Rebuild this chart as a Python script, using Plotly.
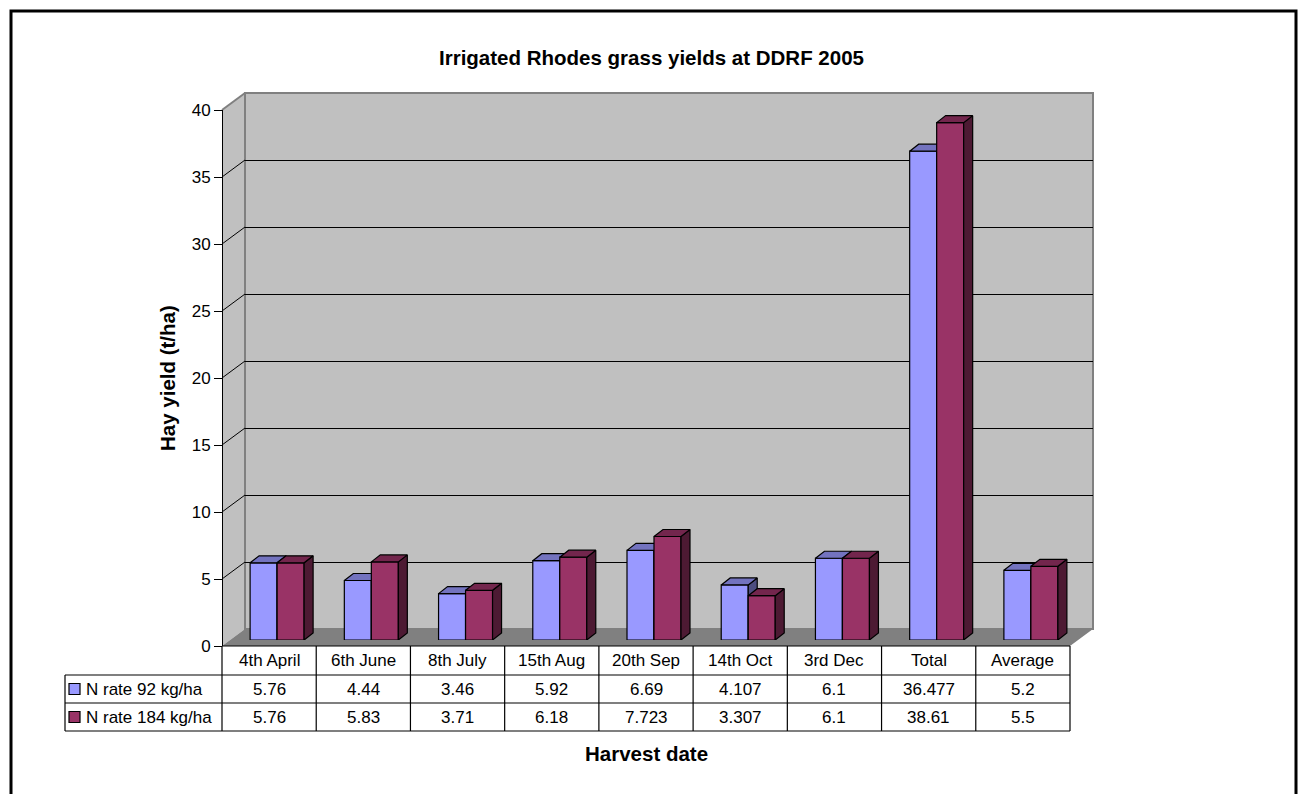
import plotly.graph_objects as go

# ---- data -------------------------------------------------------------
categories = ["4th April", "6th June", "8th July", "15th Aug", "20th Sep",
              "14th Oct", "3rd Dec", "Total", "Average"]
n_rate_92 = [5.76, 4.44, 3.46, 5.92, 6.69, 4.107, 6.1, 36.477, 5.2]
n_rate_184 = [5.76, 5.83, 3.71, 6.18, 7.723, 3.307, 6.1, 38.61, 5.5]
series_names = ["N rate 92 kg/ha", "N rate 184 kg/ha"]
y_ticks = [0, 5, 10, 15, 20, 25, 30, 35, 40]

title_text = "Irrigated Rhodes grass yields at DDRF 2005"
y_title = "Hay yield (t/ha)"
x_title = "Harvest date"

# ---- styling ----------------------------------------------------------
FONT = "Arial, Liberation Sans, sans-serif"
FRONT = ["#9999FF", "#993366"]
TOP = ["#7373BF", "#73264D"]
SIDE = ["#4D4D80", "#4D1A33"]
WALL = "#C0C0C0"
FLOOR = "#808080"

W, H = 1300, 794
FX0, FX1 = 222, 1070          # front plane, x extent (px)
FY0, FY_TOP = 646, 110        # front plane, value 0 and value 40 (px)
DEP_X, DEP_Y = 23, -17        # depth of the box
BAR_SX, BAR_SY = 8, -6        # plane where the bar fronts sit
BAR_DX, BAR_DY = 9, -7        # depth of each bar
N = len(categories)
Y_MAX = y_ticks[-1]

PX_PER_CAT = (FX1 - FX0) / N
PX_PER_UNIT = (FY0 - FY_TOP) / Y_MAX
BAR_W = 27 / PX_PER_CAT
DDX = BAR_DX / PX_PER_CAT
DDY = -BAR_DY / PX_PER_UNIT


def px(x):
    return x / W


def py(y):
    return 1 - y / H


def dom_x(shift):
    return [px(FX0 + shift), px(FX1 + shift)]


def dom_y(shift):
    return [py(FY0 + shift), py(FY_TOP + shift)]


fig = go.Figure()

# ---- bars: front faces, top faces and side faces ------------------------
for k, (vals, name) in enumerate(zip([n_rate_92, n_rate_184], series_names)):
    xa = "x2" if k == 0 else "x3"
    ya = "y2" if k == 0 else "y3"
    offset = -BAR_W if k == 0 else 0.0
    xs = list(range(N))
    fig.add_trace(go.Bar(
        x=xs, y=vals, width=[BAR_W] * N, offset=[offset] * N,
        marker=dict(color=FRONT[k], line=dict(color="black", width=1.2)),
        name=name, showlegend=False, xaxis=xa, yaxis=ya, hoverinfo="skip",
    ))
    top_x, top_y, side_x, side_y = [], [], [], []
    for i, v in enumerate(vals):
        xl = i + offset
        xr = xl + BAR_W
        top_x += [xl, xl + DDX, xr + DDX, xr, xl, None]
        top_y += [v, v + DDY, v + DDY, v, v, None]
        side_x += [xr, xr, xr + DDX, xr + DDX, xr, None]
        side_y += [0, v, v + DDY, DDY, 0, None]
    for fx, fy, col in [(side_x, side_y, SIDE[k]), (top_x, top_y, TOP[k])]:
        fig.add_trace(go.Scatter(
            x=fx, y=fy, mode="lines", fill="toself", fillcolor=col,
            line=dict(color="black", width=1.2), showlegend=False,
            xaxis=xa, yaxis=ya, hoverinfo="skip", cliponaxis=False,
        ))

# front value axis holder
fig.add_trace(go.Scatter(x=[None], y=[None], xaxis="x4", yaxis="y4",
                         showlegend=False, hoverinfo="skip"))
# back wall holder (carries the gridlines)
fig.add_trace(go.Scatter(x=[None], y=[None], xaxis="x", yaxis="y",
                         showlegend=False, hoverinfo="skip"))

hidden = dict(showgrid=False, zeroline=False, showline=False,
              showticklabels=False, ticks="", automargin=False)

fig.update_layout(
    template="none",
    width=W, height=H, autosize=False,
    margin=dict(l=0, r=0, t=0, b=0, pad=0),
    paper_bgcolor="white", plot_bgcolor="rgba(0,0,0,0)",
    showlegend=False, hovermode=False,
    font=dict(family=FONT, size=17, color="black"),
    # back wall
    xaxis=dict(domain=dom_x(DEP_X), range=[-0.5, N - 0.5], anchor="y", **hidden),
    yaxis=dict(domain=dom_y(DEP_Y), range=[0, Y_MAX], anchor="x",
               tickvals=y_ticks[1:-1], showgrid=True, gridcolor="black",
               gridwidth=1, zeroline=False, showline=False,
               showticklabels=False, ticks="", automargin=False),
    # bar plane
    xaxis2=dict(domain=dom_x(BAR_SX), range=[-0.5, N - 0.5], anchor="y2", **hidden),
    yaxis2=dict(domain=dom_y(BAR_SY), range=[0, Y_MAX], anchor="x2", **hidden),
    xaxis3=dict(overlaying="x2", range=[-0.5, N - 0.5], anchor="y3", **hidden),
    yaxis3=dict(overlaying="y2", range=[0, Y_MAX], anchor="x3", **hidden),
    # front plane with the value axis
    xaxis4=dict(domain=dom_x(0), range=[-0.5, N - 0.5], anchor="y4", **hidden),
    yaxis4=dict(domain=dom_y(0), range=[0, Y_MAX], anchor="free",
                position=px(FX0), side="left", tickvals=y_ticks,
                ticks="outside", ticklen=8, tickcolor="black", tickwidth=1,
                showline=True, linecolor="black", linewidth=1,
                showgrid=False, zeroline=False, automargin=False,
                tickfont=dict(family=FONT, size=17, color="black")),
)

shapes = []
# side wall
shapes.append(dict(type="path", xref="paper", yref="paper", layer="below",
                   path=f"M {px(FX0)},{py(FY0)} L {px(FX0 + DEP_X)},{py(FY0 + DEP_Y)} "
                        f"L {px(FX0 + DEP_X)},{py(FY_TOP + DEP_Y)} L {px(FX0)},{py(FY_TOP)} Z",
                   fillcolor=WALL, line=dict(width=0)))
# back wall
shapes.append(dict(type="rect", xref="paper", yref="paper", layer="below",
                   x0=px(FX0 + DEP_X), x1=px(FX1 + DEP_X),
                   y0=py(FY0 + DEP_Y), y1=py(FY_TOP + DEP_Y),
                   fillcolor=WALL, line=dict(color="#808080", width=2)))
# floor
shapes.append(dict(type="path", xref="paper", yref="paper", layer="below",
                   path=f"M {px(FX0)},{py(FY0)} L {px(FX1)},{py(FY0)} "
                        f"L {px(FX1 + DEP_X)},{py(FY0 + DEP_Y)} L {px(FX0 + DEP_X)},{py(FY0 + DEP_Y)} Z",
                   fillcolor=FLOOR, line=dict(width=0)))
# side wall gridlines
for v in y_ticks[1:]:
    yf = FY0 - v * PX_PER_UNIT
    shapes.append(dict(type="line", xref="paper", yref="paper", layer="below",
                       x0=px(FX0), y0=py(yf), x1=px(FX0 + DEP_X), y1=py(yf + DEP_Y),
                       line=dict(color="#808080" if v == Y_MAX else "black",
                                 width=2 if v == Y_MAX else 1)))

# data table grid
TBL_L = 65
ROWS = [646, 675, 703, 731]
for j, yr in enumerate(ROWS):
    x_start = FX0 if j == 0 else TBL_L
    shapes.append(dict(type="line", xref="paper", yref="paper",
                       x0=px(x_start), x1=px(FX1), y0=py(yr), y1=py(yr),
                       line=dict(color="black", width=1.2)))
for c in range(N + 1):
    xc = FX0 + c * PX_PER_CAT
    shapes.append(dict(type="line", xref="paper", yref="paper",
                       x0=px(xc), x1=px(xc), y0=py(ROWS[0]), y1=py(ROWS[-1]),
                       line=dict(color="black", width=1.2)))
shapes.append(dict(type="line", xref="paper", yref="paper",
                   x0=px(TBL_L), x1=px(TBL_L), y0=py(ROWS[1]), y1=py(ROWS[-1]),
                   line=dict(color="black", width=1.2)))
# legend keys
for k in range(2):
    yc = (ROWS[k + 1] + ROWS[k + 2]) / 2
    shapes.append(dict(type="rect", xref="paper", yref="paper",
                       x0=px(69), x1=px(80), y0=py(yc - 5.5), y1=py(yc + 5.5),
                       fillcolor=FRONT[k], line=dict(color="black", width=1.2)))
# chart border
shapes.append(dict(type="rect", xref="paper", yref="paper",
                   x0=px(11), x1=px(1296), y0=py(11), y1=py(H + 10),
                   fillcolor="rgba(0,0,0,0)", line=dict(color="black", width=3)))

annotations = []
for i, cat in enumerate(categories):
    annotations.append(dict(x=i, xref="x4", y=py((ROWS[0] + ROWS[1]) / 2), yref="paper",
                            text=cat, showarrow=False, xanchor="center", yanchor="middle"))
for k, vals in enumerate([n_rate_92, n_rate_184]):
    yc = (ROWS[k + 1] + ROWS[k + 2]) / 2
    for i, v in enumerate(vals):
        annotations.append(dict(x=i, xref="x4", y=py(yc), yref="paper",
                                text=f"{v:g}", showarrow=False,
                                xanchor="center", yanchor="middle"))
    annotations.append(dict(x=px(84), xref="paper", y=py(yc), yref="paper",
                            text=series_names[k], showarrow=False,
                            xanchor="left", yanchor="middle"))

BOLD = 20.5
annotations.append(dict(x=px(652), y=py(57), xref="paper", yref="paper",
                        text=f"<b>{title_text}</b>", showarrow=False,
                        font=dict(size=BOLD), xanchor="center", yanchor="middle"))
annotations.append(dict(x=px(167), y=py(378), xref="paper", yref="paper",
                        text=f"<b>{y_title}</b>", showarrow=False, textangle=-90,
                        font=dict(size=BOLD), xanchor="center", yanchor="middle"))
annotations.append(dict(x=px(646), y=py(753), xref="paper", yref="paper",
                        text=f"<b>{x_title}</b>", showarrow=False,
                        font=dict(size=BOLD), xanchor="center", yanchor="middle"))

fig.update_layout(shapes=shapes, annotations=annotations)
fig.write_html("out.html")
